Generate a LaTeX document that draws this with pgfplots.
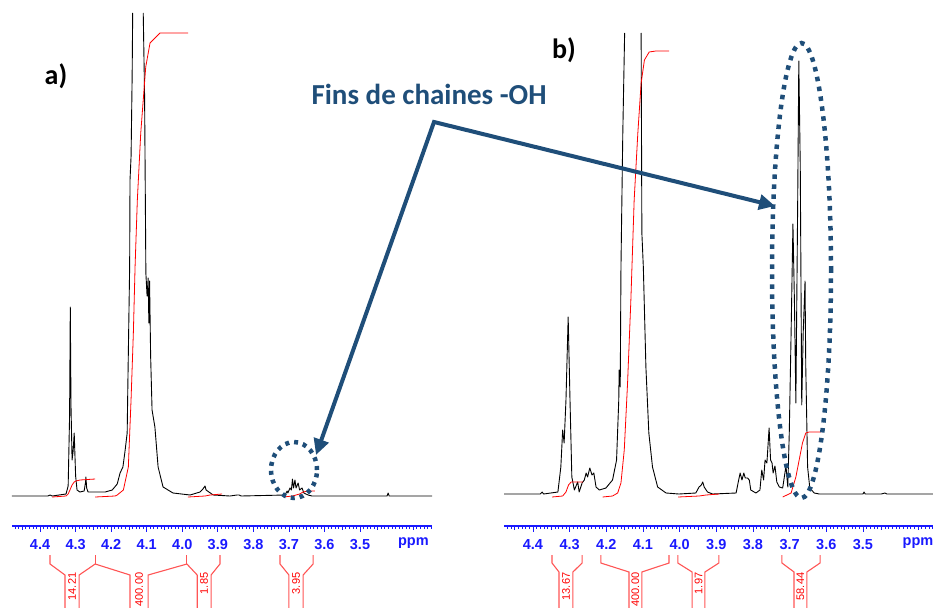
\documentclass[border=0pt]{standalone}
\usepackage{fontspec}
\setmainfont{Liberation Sans}
\newfontfamily\carlito{Carlito}
\usepackage{pgfplots}
\pgfplotsset{compat=1.18}
\usetikzlibrary{arrows.meta}
\definecolor{navy}{RGB}{31,78,121}
\definecolor{tickblue}{RGB}{25,25,255}
\definecolor{brk}{RGB}{255,85,85}
\pgfplotsset{nmr/.style={
  scale only axis, anchor=south west,
  x dir=reverse,
  axis x line*=bottom, axis y line=none,
  x axis line style={draw=tickblue, line width=1.3pt, -},
  xtick={3.5,3.6,3.7,3.8,3.9,4.0,4.1,4.2,4.3,4.4},
  xticklabels={3.5,3.6,3.7,3.8,3.9,4.0,4.1,4.2,4.3,4.4},
  minor xtick={3.30,3.31,...,4.48},
  extra x ticks={3.35,3.45,3.55,3.65,3.75,3.85,3.95,4.05,4.15,4.25,4.35,4.45},
  extra x tick labels={ppm,{},{},{},{},{},{},{},{},{},{},{}},
  extra x tick style={major tick length=3.5pt},
  tick align=outside,
  major tick length=5.5pt, minor tick length=2.5pt,
  tick style={draw=tickblue, line width=0.8pt},
  xticklabel style={text=tickblue, font=\bfseries\fontsize{14.5}{14.5}\selectfont, yshift=-4.5pt},
  clip=false,
  unbounded coords=jump,
}}
\tikzset{spec/.style={black, line width=0.9pt, line join=round},
  integ/.style={red, line width=0.8pt},
  brack/.style={brk, line width=1.1pt},
  lab/.style={text=red, rotate=90, anchor=east, inner sep=0pt, font=\fontsize{11}{11}\selectfont}}
\begin{document}
\begin{tikzpicture}
\useasboundingbox (0pt,0pt) rectangle (933pt,-607pt);
% ---------------- panel a ----------------
\begin{axis}[nmr, at={(12pt,-526pt)}, width=420pt, height=513pt,
  xmin=3.2975, xmax=4.479, ymin=-30, ymax=483]
\addplot[spec] coordinates {
(4.479,0) (4.378,0) (4.372,1) (4.366,0) (4.327,2) (4.321,10) (4.317,80) (4.315,189) (4.313,90) (4.310,36) (4.307,45) (4.304,63) (4.300,20) (4.296,6) (4.288,4) (4.276,5) (4.272,14) (4.271,19) (4.269,8) (4.265,4) (4.245,4) (4.217,4) (4.197,6) (4.183,12) (4.175,23) (4.167,29) (4.161,45) (4.155,63) (4.153,113) (4.148,230) (4.147,316) (4.144,340) (4.141,420) (4.1395,483) (4.12,nan) (4.1098,483) (4.106,400) (4.1024,223) (4.099,200) (4.096,218) (4.094,173) (4.092,215) (4.089,140) (4.085,86) (4.077,69) (4.068,29) (4.054,9) (4.026,3) (3.978,1) (3.950,4) (3.942,7) (3.936,10) (3.933,6) (3.925,4) (3.913,1) (3.866,0) (3.846,1) (3.840,1) (3.834,0) (3.711,1) (3.705,5) (3.703,3) (3.697,8) (3.693,6) (3.690,17) (3.687,8) (3.683,16) (3.680,8) (3.674,13) (3.670,6) (3.663,8) (3.658,3) (3.646,1) (3.635,0) (3.424,0) (3.421,3) (3.418,0) (3.2975,0)};
\addplot[integ] coordinates {(4.366,-1) (4.327,0) (4.321,2) (4.316,6) (4.310,11) (4.304,14) (4.299,15) (4.288,16) (4.245,17)};
\addplot[integ] coordinates {(4.245,-1) (4.189,0) (4.183,1) (4.1657,6) (4.1517,29) (4.1441,96) (4.1376,163) (4.1328,229) (4.1264,296) (4.1168,363) (4.1028,429) (4.0907,453) (4.0625,463) (3.9838,463)};
\addplot[integ] coordinates {(3.984,-1) (3.936,0) (3.922,1) (3.888,2)};
\addplot[integ] coordinates {(3.715,-1) (3.690,0) (3.670,2) (3.660,4) (3.646,5) (3.627,5)};
% integral brackets
\addplot[brack] coordinates {(4.372,-59) (4.372,-68) (4.330,-79) (4.330,-115)};
\addplot[brack] coordinates {(4.290,-115) (4.290,-79) (4.245,-68) (4.147,-79) (4.147,-115)};
\addplot[brack] coordinates {(4.245,-59) (4.245,-68)};
\addplot[brack] coordinates {(4.096,-115) (4.096,-79) (3.987,-68) (3.958,-79) (3.958,-115)};
\addplot[brack] coordinates {(3.987,-59) (3.987,-68)};
\addplot[brack] coordinates {(3.919,-115) (3.919,-79) (3.894,-68) (3.894,-59)};
\addplot[brack] coordinates {(3.725,-59) (3.725,-68) (3.700,-79) (3.700,-115)};
\addplot[brack] coordinates {(3.660,-115) (3.660,-79) (3.632,-68) (3.632,-59)};
\node[lab] at (axis cs:4.310,-76.5) {14.21};
\node[lab] at (axis cs:4.1215,-76.5) {400.00};
\node[lab] at (axis cs:3.9385,-76.5) {1.85};
\node[lab] at (axis cs:3.680,-76.5) {3.95};
\end{axis}
% ---------------- panel b ----------------
\begin{axis}[nmr, at={(504pt,-526pt)}, width=432.3pt, height=493pt,
  xmin=3.30, xmax=4.479, ymin=-32, ymax=461]
\addplot[spec] coordinates {
(4.479,0) (4.380,0) (4.375,2) (4.371,0) (4.332,2) (4.324,27) (4.319,64) (4.315,51) (4.310,94) (4.304,177) (4.299,94) (4.294,17) (4.287,4) (4.278,12) (4.274,2) (4.266,11) (4.260,14) (4.255,21) (4.251,17) (4.245,26) (4.239,19) (4.234,21) (4.228,7) (4.219,4) (4.201,6) (4.183,14) (4.172,34) (4.166,94) (4.165,124) (4.162,107) (4.160,227) (4.155,361) (4.150,461) (4.13,nan) (4.105,461) (4.103,261) (4.099,227) (4.092,127) (4.084,61) (4.074,27) (4.060,7) (4.037,1) (4.002,0) (3.956,1) (3.947,7) (3.941,9) (3.937,12) (3.933,7) (3.924,2) (3.910,0) (3.846,1) (3.839,14) (3.835,21) (3.830,14) (3.825,21) (3.821,16) (3.815,16) (3.810,14) (3.806,4) (3.792,1) (3.781,4) (3.776,24) (3.771,14) (3.767,34) (3.762,31) (3.756,66) (3.752,34) (3.748,31) (3.745,21) (3.740,28) (3.735,12) (3.728,7) (3.719,6) (3.710,28) (3.705,7) (3.701,61) (3.696,161) (3.691,270) (3.687,194) (3.683,91) (3.678,294) (3.675,433) (3.671,327) (3.667,89) (3.663,161) (3.658,213) (3.656,127) (3.651,27) (3.645,6) (3.633,1) (3.619,0) (3.500,0) (3.497,2) (3.494,0) (3.45,0) (3.44,1) (3.435,0) (3.30,0)};
\addplot[integ] coordinates {(4.348,-3) (4.319,-2) (4.310,2) (4.303,9) (4.296,12) (4.283,12) (4.264,12)};
\addplot[integ] coordinates {(4.210,-3) (4.183,-2) (4.169,1) (4.160,11) (4.151,44) (4.142,111) (4.133,194) (4.124,294) (4.114,361) (4.105,411) (4.096,434) (4.083,442) (4.065,443) (4.029,443)};
\addplot[integ] coordinates {(4.004,-3) (3.947,-2) (3.928,-1) (3.892,0)};
\addplot[integ] coordinates {(3.719,-3) (3.696,1) (3.683,17) (3.674,34) (3.665,51) (3.656,61) (3.647,62) (3.615,62)};
\addplot[brack] coordinates {(4.348,-61) (4.348,-69) (4.329,-78) (4.329,-115)};
\addplot[brack] coordinates {(4.291,-115) (4.291,-78) (4.266,-69) (4.266,-61)};
\addplot[brack] coordinates {(4.215,-61) (4.215,-69) (4.138,-78) (4.138,-115)};
\addplot[brack] coordinates {(4.103,-115) (4.103,-78) (4.029,-69) (4.029,-61)};
\addplot[brack] coordinates {(4.005,-61) (4.005,-69) (3.966,-78) (3.966,-115)};
\addplot[brack] coordinates {(3.931,-115) (3.931,-78) (3.893,-69) (3.893,-61)};
\addplot[brack] coordinates {(3.721,-61) (3.721,-69) (3.688,-78) (3.688,-115)};
\addplot[brack] coordinates {(3.653,-115) (3.653,-78) (3.617,-69) (3.617,-61)};
\node[lab] at (axis cs:4.310,-78.5) {13.67};
\node[lab] at (axis cs:4.1205,-78.5) {400.00};
\node[lab] at (axis cs:3.9485,-78.5) {1.97};
\node[lab] at (axis cs:3.6705,-78.5) {58.44};
\end{axis}
% ---------------- annotations ----------------
\node[font=\carlito\bfseries\fontsize{28}{28}\selectfont] at (56pt,-76pt) {a)};
\node[font=\carlito\bfseries\fontsize{28}{28}\selectfont] at (564pt,-50pt) {b)};
\node[anchor=base west, text=navy, font=\carlito\bfseries\fontsize{29}{29}\selectfont] at (308pt,-105pt) {Fins de chaines -OH};
\draw[navy, line width=4pt, line join=miter, {Triangle[length=16pt,width=15pt]}-{Triangle[length=16pt,width=15pt]}]
  (316pt,-455pt) -- (434pt,-122pt) -- (775pt,-206pt);
\draw[navy, line width=4.5pt, dash pattern=on 4pt off 5pt] (294pt,-470pt) ellipse [x radius=23pt, y radius=28pt];
\draw[navy, line width=4.5pt, dash pattern=on 4.5pt off 5.5pt] (801.5pt,-270.5pt) ellipse [x radius=29.5pt, y radius=227.5pt];
\end{tikzpicture}
\end{document}
